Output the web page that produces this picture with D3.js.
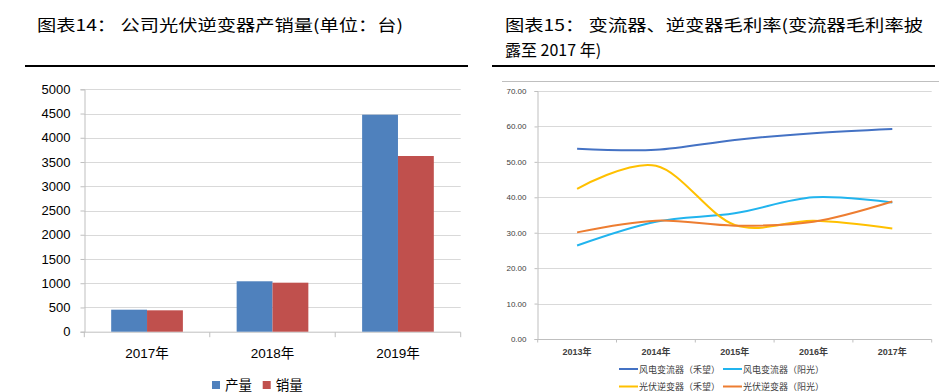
<!DOCTYPE html>
<html>
<head>
<meta charset="utf-8">
<script src="https://cdn.jsdelivr.net/npm/d3@7"></script>
<style>
  body { margin: 0; background: #fff; }
  svg { display: block; }
</style>
</head>
<body>
<svg id="viz" width="939" height="392"></svg>
<script>
// left chart: output / sales (units)
let years = ["2017年", "2018年", "2019年"];
let seriesNames = ["产量", "销量"];
let output = [454, 1040, 4476];
let sales = [441, 1011, 3624];
let leftTicks = [0, 500, 1000, 1500, 2000, 2500, 3000, 3500, 4000, 4500, 5000];

// right chart: gross margins
let marginYears = ["2013年", "2014年", "2015年", "2016年", "2017年"];
let lineNames = ["风电变流器（禾望）", "风电变流器（阳光）", "光伏逆变器（禾望）", "光伏逆变器（阳光）"];
let windHw = [53.7, 53.4, 56.2, 58.1, 59.3];
let windSg = [26.4, 33.1, 35.5, 40.0, 38.5];
let pvHw = [42.4, 48.9, 32.2, 33.4, 31.2];
let pvSg = [30.1, 33.4, 32.0, 33.1, 38.8];
let rightTicks = [0, 10, 20, 30, 40, 50, 60, 70];

let cjk = "'Liberation Sans', 'Noto Sans CJK SC', sans-serif";
let svg = d3.select("#viz");

// titles
svg.append("text").attr("x", 37).attr("y", 31)
    .attr("font-family", "'Noto Sans CJK SC'").attr("font-size", 16).attr("fill", "#000")
    .attr("textLength", 366).attr("lengthAdjust", "spacingAndGlyphs")
    .text("图表14：  公司光伏逆变器产销量(单位：台)");
svg.append("text").attr("x", 505).attr("y", 31)
    .attr("font-family", "'Noto Sans CJK SC'").attr("font-size", 16).attr("fill", "#000")
    .attr("textLength", 418).attr("lengthAdjust", "spacingAndGlyphs")
    .text("图表15：  变流器、逆变器毛利率(变流器毛利率披");
svg.append("text").attr("x", 505).attr("y", 56)
    .attr("font-family", "'Noto Sans CJK SC'").attr("font-size", 16).attr("fill", "#000")
    .text("露至 2017 年)");

svg.append("line").attr("x1", 25).attr("x2", 468).attr("y1", 66).attr("y2", 66)
    .attr("stroke", "#000").attr("stroke-width", 2);
svg.append("line").attr("x1", 492).attr("x2", 935).attr("y1", 66).attr("y2", 66)
    .attr("stroke", "#000").attr("stroke-width", 2);
svg.append("line").attr("x1", 502).attr("x2", 939).attr("y1", 81.5).attr("y2", 81.5)
    .attr("stroke", "#bfbfbf").attr("stroke-width", 1);

// ---------- left bar chart ----------
let x = d3.scaleBand().domain(years).range([84.3, 460.7]);
let xSub = d3.scaleBand().domain(seriesNames).range([0, x.bandwidth()])
    .paddingInner(0).paddingOuter(0.75);
let y = d3.scaleLinear().domain([0, 5000]).range([331.7, 89.3]);
let barColor = d3.scaleOrdinal().domain(seriesNames).range(["#4f81bd", "#c0504d"]);

let left = svg.append("g");
left.append("g").selectAll("line").data(leftTicks.slice(1)).enter().append("line")
    .attr("x1", 84.3).attr("x2", 460.7)
    .attr("y1", function (d) { return Math.round(y(d)) + 0.5; })
    .attr("y2", function (d) { return Math.round(y(d)) + 0.5; })
    .attr("stroke", "#d9d9d9");

let yAxisL = left.append("g").attr("transform", "translate(84.5,0)")
    .call(d3.axisLeft(y).tickValues(leftTicks).tickSize(4).tickPadding(10)
        .tickFormat(d3.format("d")));
yAxisL.select(".domain").attr("stroke", "#bfbfbf");
yAxisL.selectAll(".tick line").attr("stroke", "#bfbfbf");
yAxisL.selectAll("text").attr("font-family", cjk).attr("font-size", 13).attr("fill", "#000");

let xAxisL = left.append("g").attr("transform", "translate(0," + (y(0) + 0.5) + ")");
xAxisL.append("line").attr("x1", x.range()[0]).attr("x2", x.range()[1])
    .attr("stroke", "#bfbfbf");
xAxisL.selectAll(".tk").data(years.concat(["end"])).enter().append("line")
    .attr("x1", function (d, i) { return x.range()[0] + i * x.step(); })
    .attr("x2", function (d, i) { return x.range()[0] + i * x.step(); })
    .attr("y1", 0).attr("y2", 5).attr("stroke", "#bfbfbf");
xAxisL.selectAll("text").data(years).enter().append("text")
    .attr("x", function (d) { return x(d) + x.bandwidth() / 2; })
    .attr("y", 26).attr("text-anchor", "middle")
    .attr("font-family", cjk).attr("font-size", 13.5).attr("fill", "#000")
    .text(function (d) { return d; });

let barData = years.map(function (d, i) {
    return {year: d, vals: [{name: "产量", v: output[i]}, {name: "销量", v: sales[i]}]};
});
left.append("g").selectAll("g").data(barData).enter().append("g")
    .attr("transform", function (d) { return "translate(" + x(d.year) + ",0)"; })
    .selectAll("rect").data(function (d) { return d.vals; }).enter().append("rect")
    .attr("x", function (d) { return xSub(d.name); })
    .attr("width", xSub.bandwidth())
    .attr("y", function (d) { return y(d.v); })
    .attr("height", function (d) { return y(0) - y(d.v); })
    .attr("fill", function (d) { return barColor(d.name); });

let legL = left.append("g").selectAll("g").data(seriesNames).enter().append("g")
    .attr("transform", function (d, i) { return "translate(" + (212 + i * 50.7) + ",381)"; });
legL.append("rect").attr("width", 8).attr("height", 8)
    .attr("fill", function (d) { return barColor(d); });
legL.append("text").attr("x", 13).attr("y", 8.5)
    .attr("font-family", cjk).attr("font-size", 13.5).attr("fill", "#000")
    .text(function (d) { return d; });

// ---------- right line chart ----------
let x2 = d3.scaleBand().domain(marginYears).range([537.7, 931.7]);
let y2 = d3.scaleLinear().domain([0, 70]).range([339, 91]);
let lineColor = d3.scaleOrdinal().domain(lineNames).range(["#4472c4", "#21b4ee", "#ffc000", "#ed7d31"]);
let lines = [windHw, windSg, pvHw, pvSg];

let right = svg.append("g");
right.append("g").selectAll("line").data(rightTicks.slice(1)).enter().append("line")
    .attr("x1", 537.7).attr("x2", 931.7)
    .attr("y1", function (d) { return Math.round(y2(d)) + 0.5; })
    .attr("y2", function (d) { return Math.round(y2(d)) + 0.5; })
    .attr("stroke", "#d9d9d9");

let yAxisR = right.append("g").attr("transform", "translate(537.5,0)")
    .call(d3.axisLeft(y2).tickValues(rightTicks).tickSize(3).tickPadding(8)
        .tickFormat(d3.format(".2f")));
yAxisR.select(".domain").attr("stroke", "#bfbfbf");
yAxisR.selectAll(".tick line").attr("stroke", "#bfbfbf");
yAxisR.selectAll("text").attr("font-family", cjk).attr("font-size", 8).attr("fill", "#404040");

let xAxisR = right.append("g").attr("transform", "translate(0," + (y2(0) + 0.5) + ")");
xAxisR.append("line").attr("x1", x2.range()[0]).attr("x2", x2.range()[1])
    .attr("stroke", "#bfbfbf");
xAxisR.selectAll(".tk").data(marginYears.concat(["end"])).enter().append("line")
    .attr("x1", function (d, i) { return x2.range()[0] + i * x2.step(); })
    .attr("x2", function (d, i) { return x2.range()[0] + i * x2.step(); })
    .attr("y1", 0).attr("y2", 3).attr("stroke", "#bfbfbf");
xAxisR.selectAll("text").data(marginYears).enter().append("text")
    .attr("x", function (d) { return x2(d) + x2.bandwidth() / 2; })
    .attr("y", 15).attr("text-anchor", "middle")
    .attr("font-family", cjk).attr("font-size", 9).attr("font-weight", "bold").attr("fill", "#404040")
    .text(function (d) { return d; });

let line = d3.line()
    .x(function (d, i) { return x2(marginYears[i]) + x2.bandwidth() / 2; })
    .y(function (d) { return y2(d); })
    .curve(d3.curveCardinal.tension(0));
right.append("g").selectAll("path").data(lines).enter().append("path")
    .attr("d", line)
    .attr("fill", "none")
    .attr("stroke", function (d, i) { return lineColor(lineNames[i]); })
    .attr("stroke-width", 2);

let legR = right.append("g").selectAll("g").data(lineNames).enter().append("g")
    .attr("transform", function (d, i) {
        return "translate(" + (619 + (i % 2) * 104) + "," + (369 + Math.floor(i / 2) * 17.5) + ")";
    });
legR.append("line").attr("x1", 0).attr("x2", 19).attr("y1", 0).attr("y2", 0)
    .attr("stroke", function (d) { return lineColor(d); }).attr("stroke-width", 2);
legR.append("text").attr("x", 20).attr("y", 3.5)
    .attr("font-family", "'Noto Sans CJK SC'").attr("font-size", 9).attr("fill", "#404040")
    .text(function (d) { return d; });
</script>
</body>
</html>
